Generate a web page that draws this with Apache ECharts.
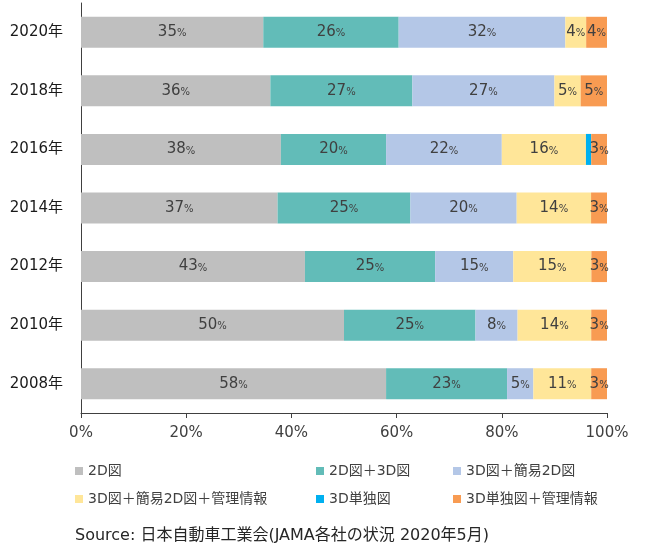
<!DOCTYPE html>
<html>
<head>
<meta charset="utf-8">
<script src="https://cdn.jsdelivr.net/npm/echarts@6/dist/echarts.min.js"></script>
<style>
html,body{margin:0;padding:0;background:#fff;}
#chart{width:645px;height:556px;}
</style>
</head>
<body>
<div id="chart"></div>
<script>
// Categories (bottom to top)
const years = ['2008年','2010年','2012年','2014年','2016年','2018年','2020年'];
// Series values (percent labels as printed)
const v2D          = [58, 50, 43, 37, 38, 36, 35];
const v2D3D        = [23, 25, 25, 25, 20, 27, 26];
const v3DSimple    = [5, 8, 15, 20, 22, 27, 32];
const v3DSimpleMgt = [11, 14, 15, 14, 16, 5, 4];
const v3DOnly      = [0, 0, 0, 0, 1, 0, 0];
const v3DOnlyMgt   = [3, 3, 3, 3, 3, 5, 4];
// Tick labels
const xTicks = ['0%','20%','40%','60%','80%','100%'];
const seriesNames = ['2D図','2D図＋3D図','3D図＋簡易2D図','3D図＋簡易2D図＋管理情報','3D単独図','3D単独図＋管理情報'];
const seriesColors = ['#BFBFBF','#62BCB8','#B4C7E7','#FFE699','#00B0F0','#F89B52'];
const sourceText = 'Source: 日本自動車工業会(JAMA各社の状況 2020年5月)';

const allVals = [v2D, v2D3D, v3DSimple, v3DSimpleMgt, v3DOnly, v3DOnlyMgt];
const totals = years.map((_, i) => allVals.reduce((s, arr) => s + arr[i], 0));

const FONT = '"DejaVu Sans", "Noto Sans CJK JP", sans-serif';

const series = allVals.map((arr, k) => ({
  name: seriesNames[k],
  type: 'bar',
  stack: 'total',
  barWidth: 31,
  itemStyle: { color: seriesColors[k] },
  label: {
    show: k !== 4,
    position: 'inside',
    formatter: p => arr[p.dataIndex] ? '{a|' + arr[p.dataIndex] + '}{b|%}' : '',
    rich: {
      a: { fontSize: 15, color: '#404040', fontFamily: FONT },
      b: { fontSize: 10, color: '#404040', fontFamily: FONT, padding: [3, 0, 0, 0] }
    }
  },
  data: arr.map((v, i) => v / totals[i] * 100)
}));

const legendCommon = {
  orient: 'vertical',
  itemWidth: 8,
  itemHeight: 8,
  itemGap: 12,
  icon: 'rect',
  top: 463,
  padding: 0,
  textStyle: { fontSize: 14, color: '#404040', fontFamily: FONT, lineHeight: 16 }
};

const chart = echarts.init(document.getElementById('chart'), null, { renderer: 'canvas' });
chart.setOption({
  animation: false,
  backgroundColor: '#fff',
  textStyle: { fontFamily: FONT },
  grid: { left: 81, right: 38, top: 3, bottom: 143, containLabel: false },
  xAxis: {
    type: 'value',
    min: 0, max: 100, interval: 20,
    axisLine: { show: true, lineStyle: { color: '#404040', width: 1 } },
    axisTick: { show: true, length: 5, lineStyle: { color: '#404040' } },
    splitLine: { show: false },
    axisLabel: {
      margin: 13,
      fontSize: 15,
      color: '#404040',
      fontFamily: FONT,
      formatter: v => xTicks[Math.round(v / 20)]
    }
  },
  yAxis: {
    type: 'category',
    data: years,
    axisLine: { show: true, lineStyle: { color: '#404040', width: 1 } },
    axisTick: { show: false },
    axisLabel: { margin: 18, fontSize: 15, color: '#1a1a1a', fontFamily: FONT }
  },
  legend: [
    Object.assign({}, legendCommon, { left: 75, data: [seriesNames[0], seriesNames[3]] }),
    Object.assign({}, legendCommon, { left: 316, data: [seriesNames[1], seriesNames[4]] }),
    Object.assign({}, legendCommon, { left: 453, data: [seriesNames[2], seriesNames[5]] })
  ],
  graphic: [{
    type: 'text',
    left: 75,
    top: 528,
    style: { text: sourceText, fontSize: 16, fill: '#262626', fontFamily: FONT }
  }],
  series: series
});
</script>
</body>
</html>
